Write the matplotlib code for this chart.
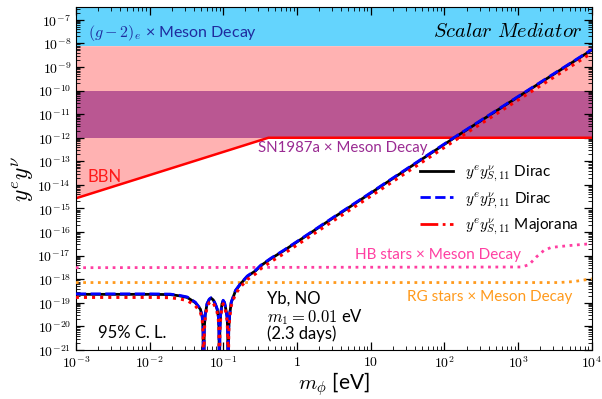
import numpy as np
import matplotlib
matplotlib.use("Agg")
import matplotlib.pyplot as plt
from matplotlib.lines import Line2D
from matplotlib.ticker import LogLocator, FuncFormatter

plt.rcParams['font.family'] = ['Lato', 'DejaVu Sans']
plt.rcParams['mathtext.fontset'] = 'cm'

# log10 of mass (eV) where the Yb bounds are sampled
log_m = [-3.0, -2.5, -2.0, -1.72, -1.6, -1.49, -1.38, -1.31, -1.285, -1.274, -1.266,
         -1.258, -1.245, -1.22, -1.19, -1.165, -1.135, -1.105, -1.083, -1.066, -1.058, -1.052,
         -1.046, -1.035, -1.018, -1.001, -0.983, -0.965, -0.948, -0.94, -0.933,
         -0.926, -0.913, -0.892, -0.834, -0.766, -0.674, -0.561, -0.493, -0.35, -0.18,
         0.0, 0.5, 1.0, 2.136, 3.0, 4.0]

# log10 of y^e y^nu bounds
log_y_dirac_s = [-18.64, -18.64, -18.64, -18.65, -18.70, -18.77, -18.99, -19.27, -19.6, -20.1, -23.0,
                 -20.1, -19.5, -19.05, -18.86, -18.80, -18.88, -19.08, -19.27, -19.6, -20.1, -23.0,
                 -20.1, -19.5, -19.05, -18.91, -19.0, -19.27, -19.6, -20.1, -23.0,
                 -20.1, -19.5, -18.99, -18.49, -18.2, -17.88, -17.64, -17.43, -17.12, -16.79,
                 -16.42, -15.38, -14.35, -12.0, -10.27, -8.28]
log_y_dirac_p = [-18.62, -18.62, -18.62, -18.63, -18.68, -18.75, -18.97, -19.25, -19.58, -20.08, -23.0,
                 -20.08, -19.48, -19.03, -18.84, -18.78, -18.86, -19.06, -19.25, -19.58, -20.08, -23.0,
                 -20.08, -19.48, -19.03, -18.89, -18.98, -19.25, -19.58, -20.08, -23.0,
                 -20.08, -19.48, -18.97, -18.47, -18.18, -17.86, -17.62, -17.41, -17.10, -16.77,
                 -16.40, -15.36, -14.33, -11.98, -10.25, -8.26]
log_y_majorana = [-18.77, -18.77, -18.77, -18.78, -18.83, -18.90, -19.12, -19.40, -19.73, -20.23, -23.0,
                  -20.23, -19.63, -19.18, -18.99, -18.93, -19.01, -19.21, -19.40, -19.73, -20.23, -23.0,
                  -20.23, -19.63, -19.18, -19.04, -19.13, -19.40, -19.73, -20.23, -23.0,
                  -20.23, -19.63, -19.12, -18.62, -18.33, -18.01, -17.77, -17.56, -17.25, -16.92,
                  -16.55, -15.51, -14.48, -12.13, -10.40, -8.41]

# astrophysical x meson-decay limits
log_m_hb = [-3.0, 3.05, 3.15, 3.25, 3.35, 3.45, 3.7, 4.0]
log_y_hb = [-17.51, -17.48, -17.38, -17.05, -16.78, -16.65, -16.57, -16.49]
log_m_rg = [-3.0, 3.55, 3.75, 3.9, 4.0]
log_y_rg = [-18.14, -18.14, -18.10, -18.03, -17.98]

# BBN bound and excluded bands
m_bbn = [1e-3, 0.41, 1e4]
y_bbn = [2.7e-15, 1e-12, 1e-12]
g2_band = [8e-9, 3.5e-7]
sn_band = [1e-12, 1e-10]

ymin, ymax = 1e-21, 3.5e-7

m = 10 ** np.array(log_m)

fig = plt.figure(figsize=(6.02, 3.99), dpi=100)
ax = fig.add_axes([0.126, 0.1228, 0.857, 0.8597])

ax.axhspan(g2_band[0], g2_band[1], color='#64d4fd', lw=0, zorder=0)
ax.fill_between(m_bbn, y_bbn, g2_band[0], color='#ffb2b2', lw=0, zorder=0)
ax.axhspan(sn_band[0], sn_band[1], color='#ba5792', lw=0, zorder=1)
ax.plot(m_bbn, y_bbn, color='#ff0000', lw=1.8, zorder=2)

ax.plot(10 ** np.array(log_m_hb), 10 ** np.array(log_y_hb), ':', color='#ff3fa2', lw=2, zorder=3)
ax.plot(10 ** np.array(log_m_rg), 10 ** np.array(log_y_rg), ':', color='#ff9a1c', lw=2, zorder=3)

ax.plot(m, 10 ** np.array(log_y_dirac_s), '-', color='black', lw=2, zorder=4)
ax.plot(m, 10 ** np.array(log_y_dirac_p), '--', color='#0000ff', lw=2, zorder=5)
ax.plot(m, 10 ** np.array(log_y_majorana), ':', color='#ff0000', lw=2.2, zorder=6)

ax.set_xscale('log')
ax.set_yscale('log')
ax.set_xlim(1e-3, 1e4)
ax.set_ylim(ymin, ymax)


def pow_label(v, pos):
    e = int(round(np.log10(v)))
    if e == 0:
        return r'$1$'
    if e == 1:
        return r'$10$'
    return r'$10^{%d}$' % e


for axis in (ax.xaxis, ax.yaxis):
    axis.set_major_locator(LogLocator(base=10, numticks=100))
    axis.set_minor_locator(LogLocator(base=10, subs=np.arange(2, 10), numticks=100))
    axis.set_major_formatter(FuncFormatter(pow_label))
ax.tick_params(which='both', direction='in', top=True, right=True, labelsize=10)
ax.tick_params(which='major', length=6, width=0.9)
ax.tick_params(which='minor', length=3, width=0.6)

ax.set_xlabel(r'$m_\phi$ [eV]', fontsize=15, labelpad=0)
ax.set_ylabel(r'$y^e y^\nu$', fontsize=17, labelpad=1)

tf = ax.transAxes
ax.text(0.023, 0.924, r'$(g-2)_e$ × Meson Decay', color='#1f2b9e', fontsize=11.5,
        ha='left', va='center', transform=tf)
ax.text(0.983, 0.930, r'$Scalar\ Mediator$', fontsize=14.7, ha='right', va='center', transform=tf)
ax.text(0.023, 0.504, 'BBN', color='#ff1a1a', fontsize=12, ha='left', va='center', transform=tf)
ax.text(0.353, 0.589, 'SN1987a × Meson Decay', color='#9a2a92', fontsize=10.8,
        ha='left', va='center', transform=tf)
ax.text(0.541, 0.277, 'HB stars × Meson Decay', color='#ff3fa2', fontsize=11,
        ha='left', va='center', transform=tf)
ax.text(0.641, 0.155, 'RG stars × Meson Decay', color='#ff9a1c', fontsize=11,
        ha='left', va='center', transform=tf)
ax.text(0.370, 0.151, 'Yb, NO', fontsize=12, ha='left', va='center', transform=tf)
ax.text(0.370, 0.097, r'$m_1 = 0.01$ eV', fontsize=12, ha='left', va='center', transform=tf)
ax.text(0.370, 0.048, '(2.3 days)', fontsize=12, ha='left', va='center', transform=tf)
ax.text(0.043, 0.049, '95% C. L.', fontsize=12, ha='left', va='center', transform=tf)

handles = [Line2D([], [], color='black', ls='-', lw=2),
           Line2D([], [], color='#0000ff', ls='--', lw=2),
           Line2D([], [], color='#ff0000', ls='-.', lw=2)]
labels = [r'$y^e y^\nu_{S,11}$ Dirac', r'$y^e y^\nu_{P,11}$ Dirac', r'$y^e y^\nu_{S,11}$ Majorana']
ax.legend(handles, labels, loc='center right', bbox_to_anchor=(1.0, 0.436), frameon=False,
          fontsize=11, handlelength=2.15, labelspacing=0.4, handletextpad=0.8)

fig.savefig('out.png', dpi=100)
